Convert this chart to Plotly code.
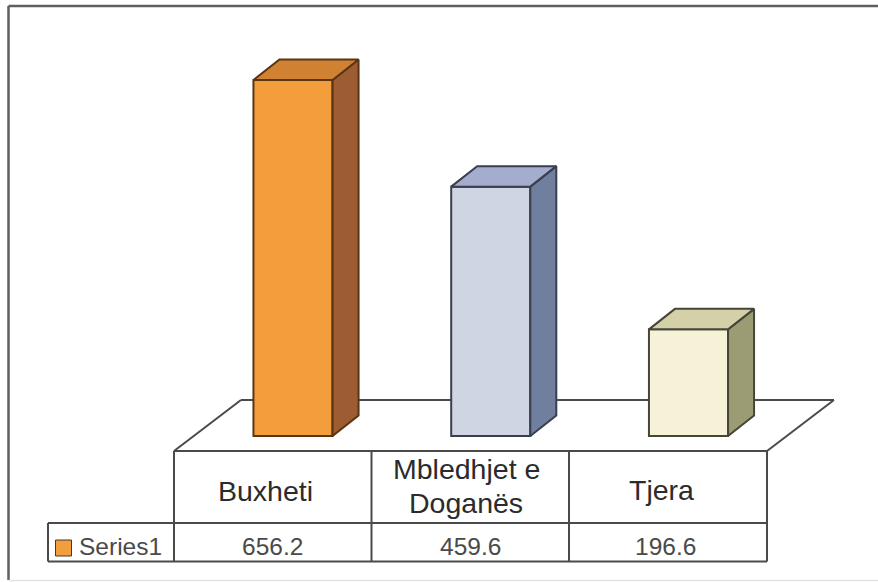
import plotly.graph_objects as go

categories = ["Buxheti", "Mbledhjet e<br>Doganës", "Tjera"]
series_name = "Series1"
values = [656.2, 459.6, 196.6]
value_labels = ["656.2", "459.6", "196.6"]
front_colors = ["#F39D3C", "#CFD5E2", "#F5F2D8"]
top_colors = ["#D08232", "#A5ADCE", "#D4D0A8"]
side_colors = ["#9E5C32", "#717F9F", "#9B9B74"]
edge_colors = ["#5A3513", "#3A3F50", "#45453A"]

W, H = 878, 582
X0, X_STEP = 293.0, 197.75
Y0, Y_SCALE = 436.0, 356.0 / 656.2
BAR_W = 0.4
DX = 26 / X_STEP
DY = 20.5 / Y_SCALE


def px(x):
    return x / W


def py(y):
    return 1 - y / H


xpos = list(range(len(categories)))
fig = go.Figure()
fig.add_trace(go.Bar(
    x=xpos, y=values, width=BAR_W,
    marker=dict(color=front_colors, line=dict(color=edge_colors, width=2)),
    showlegend=False, hoverinfo="skip",
))
for x, v, tc, sc, ec in zip(xpos, values, top_colors, side_colors, edge_colors):
    l, r = x - BAR_W / 2, x + BAR_W / 2
    fig.add_trace(go.Scatter(
        x=[r, r + DX, r + DX, r, r], y=[0, DY, v + DY, v, 0],
        mode="lines", fill="toself", fillcolor=sc, line=dict(color=ec, width=2),
        showlegend=False, hoverinfo="skip",
    ))
    fig.add_trace(go.Scatter(
        x=[l, l + DX, r + DX, r, l], y=[v, v + DY, v + DY, v, v],
        mode="lines", fill="toself", fillcolor=tc, line=dict(color=ec, width=2),
        showlegend=False, hoverinfo="skip",
    ))

LINE = dict(color="#4A4A4A", width=2)
shapes = []


def seg(x1, y1, x2, y2, line=LINE):
    shapes.append(dict(type="line", xref="paper", yref="paper", layer="below",
                       x0=px(x1), y0=py(y1), x1=px(x2), y1=py(y2), line=line))


# frame
FRAME = dict(color="#5F5F5F", width=2.5)
seg(8.5, 6, 878, 6, FRAME)
seg(8.5, 6, 8.5, 580, FRAME)
seg(8.5, 580.5, 878, 580.5, dict(color="#E2E2E2", width=1.5))
# floor
seg(174, 451, 241, 400)
seg(241, 400, 834, 400)
seg(834, 400, 767, 451)
# table
seg(174, 451, 767, 451)
seg(48, 523, 767, 523)
seg(48, 561.5, 767, 561.5)
seg(48, 523, 48, 561.5)
for xl in (174, 371.5, 569, 767):
    seg(xl, 451, xl, 561.5)
# legend swatch
shapes.append(dict(type="rect", xref="paper", yref="paper",
                   x0=px(55.5), x1=px(71.5), y0=py(540), y1=py(556),
                   fillcolor=front_colors[0], line=dict(color="#3A3A3A", width=1)))

ann = []


def label(x, y, text, size, color, xanchor="center"):
    ann.append(dict(xref="paper", yref="paper", x=px(x), y=py(y), text=text,
                    showarrow=False, xanchor=xanchor, yanchor="middle",
                    font=dict(family="Liberation Sans, Arial, sans-serif", size=size, color=color)))


cat_x = [265.5, 466, 661]
cat_y = [491, 485.5, 490]
LINE_GAP = 34
for cx, cy, c in zip(cat_x, cat_y, categories):
    lines = c.split("<br>")
    for i, t in enumerate(lines):
        label(cx, cy + (i - (len(lines) - 1) / 2) * LINE_GAP, t, 28.5, "#2B2B2B")
val_x = [272.5, 470.5, 665]
for vx, t in zip(val_x, value_labels):
    label(vx, 546.5, t, 24.5, "#4A4A4A")
label(77, 546.5, series_name, 24.5, "#4A4A4A", "left")

fig.update_layout(
    width=W, height=H, margin=dict(l=0, r=0, t=0, b=0),
    paper_bgcolor="white", plot_bgcolor="rgba(0,0,0,0)",
    shapes=shapes, annotations=ann, showlegend=False,
    xaxis=dict(range=[-X0 / X_STEP, (W - X0) / X_STEP], visible=False, fixedrange=True),
    yaxis=dict(range=[-(H - Y0) / Y_SCALE, Y0 / Y_SCALE], visible=False, fixedrange=True),
)
fig.write_html("out.html", config=dict(displayModeBar=False),
               post_script="document.body.style.margin='0';document.body.style.overflow='hidden';")
